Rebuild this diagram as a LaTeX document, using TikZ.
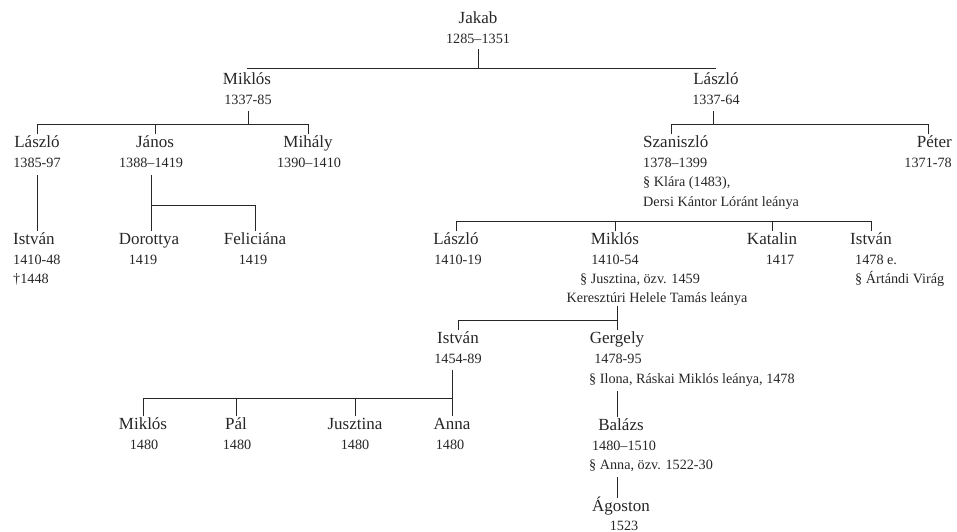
\documentclass[tikz,border=0pt]{standalone}
\usepackage{fontspec}
\setmainfont{Liberation Serif}
\begin{document}
\begin{tikzpicture}[x=1pt,y=-1pt,
  nm/.style={font=\fontsize{17}{20}\selectfont, inner sep=0pt, text height=13pt, text depth=4pt, anchor=mid, text=black!85},
  dt/.style={font=\fontsize{14.2}{17}\selectfont, inner sep=0pt, text height=10.5pt, text depth=3.5pt, anchor=mid, text=black!85},
  link/.style={draw=black!85, line width=0.9pt}]
\useasboundingbox (0,0) rectangle (957,531);

% horizontal bar levels
\coordinate (b1) at (0,68);
\coordinate (b2) at (0,124);
\coordinate (b3l) at (0,205);
\coordinate (b3) at (0,221);
\coordinate (b4) at (0,320);
\coordinate (b5) at (0,398);

% generation 0
\node[nm] (jakab) at (478,21) {Jakab};
\node[dt] (jakab-d) at (478,41) {1285–1351};

% generation 1
\node[nm] (mik1) at (247,82) {Miklós};
\node[dt] (mik1-d) at (248,102) {1337-85};
\node[nm] (las1) at (716,82) {László};
\node[dt] (las1-d) at (716,102) {1337-64};

% generation 2
\node[nm] (las2) at (37,145) {László};
\node[dt] (las2-d) at (37,165) {1385-97};
\node[nm] (jan) at (155,145) {János};
\node[dt] (jan-d) at (151,165) {1388–1419};
\node[nm] (mih) at (308,145) {Mihály};
\node[dt] (mih-d) at (309,165) {1390–1410};
\node[nm,anchor=mid west] (szan) at (643,145) {Szaniszló};
\node[dt,anchor=mid west] (szan-d) at (643,165) {1378–1399};
\node[dt,anchor=mid west] (szan-s) at (643,184) {§ Klára (1483),};
\node[dt,anchor=mid west] (szan-t) at (643,204) {Dersi Kántor Lóránt leánya};
\node[nm,anchor=mid east] (pet) at (952,145) {Péter};
\node[dt,anchor=mid east] (pet-d) at (952,165) {1371-78};

% generation 3
\node[nm,anchor=mid west] (ist1) at (13,242) {István};
\node[dt,anchor=mid west] (ist1-d) at (13,262) {1410-48};
\node[dt,anchor=mid west] (ist1-t) at (13,281) {†1448};
\node[nm] (dor) at (149,242) {Dorottya};
\node[dt] (dor-d) at (143,262) {1419};
\node[nm] (fel) at (255,242) {Feliciána};
\node[dt] (fel-d) at (253,262) {1419};
\node[nm] (las3) at (456,242) {László};
\node[dt] (las3-d) at (458,262) {1410-19};
\node[nm] (mik3) at (615,242) {Miklós};
\node[dt] (mik3-d) at (615,262) {1410-54};
\node[dt] (mik3-s) at (640,281) {§ Jusztina, özv. 1459};
\node[dt] (mik3-t) at (657,300) {Keresztúri Helele Tamás leánya};
\node[nm] (kat) at (772,242) {Katalin};
\node[dt] (kat-d) at (780,262) {1417};
\node[nm] (ist3) at (871,242) {István};
\node[dt,anchor=mid west] (ist3-d) at (855,262) {1478 e.};
\node[dt,anchor=mid west] (ist3-s) at (855,281) {§ Ártándi Virág};

% generation 4
\node[nm] (ist4) at (458,341) {István};
\node[dt] (ist4-d) at (458,361) {1454-89};
\node[nm] (ger) at (617,341) {Gergely};
\node[dt] (ger-d) at (618,361) {1478-95};
\node[dt,anchor=mid west] (ger-s) at (589,381) {§ Ilona, Ráskai Miklós leánya, 1478};

% generation 5
\node[nm] (mik5) at (143,427) {Miklós};
\node[dt] (mik5-d) at (144,447) {1480};
\node[nm] (pal) at (236,427) {Pál};
\node[dt] (pal-d) at (237,447) {1480};
\node[nm] (jus) at (355,427) {Jusztina};
\node[dt] (jus-d) at (355,447) {1480};
\node[nm] (anna) at (452,427) {Anna};
\node[dt] (anna-d) at (450,447) {1480};
\node[nm] (bal) at (621,428) {Balázs};
\node[dt] (bal-d) at (624,448) {1480–1510};
\node[dt,anchor=mid west] (bal-s) at (589,467) {§ Anna, özv. 1522-30};

% generation 6
\node[nm] (ago) at (621,509) {Ágoston};
\node[dt] (ago-d) at (624,528) {1523};

% Jakab's sons
\draw[link] ([yshift=-2pt]jakab-d.south) -- (jakab-d.south |- b1);
\draw[link] (mik1.north |- b1) -- (las1.north |- b1);

% Miklós's sons
\draw[link] ([yshift=-3pt]mik1-d.south) -- (mik1-d.south |- b2);
\draw[link] (las2.north) -- (las2.north |- b2) -- (mih.north |- b2) -- (mih.north);
\draw[link] (jan.north) -- (jan.north |- b2);

% László's sons
\draw[link] ([yshift=-3pt,xshift=-3pt]las1-d.south) -- ([xshift=-3pt]las1-d.south |- b2);
\draw[link] ([xshift=28pt]szan.north west) -- ([xshift=28pt]szan.north west |- b2)
  -- ([xshift=-24pt]pet.north east |- b2) -- ([xshift=-24pt]pet.north east);

% László (1385-97) and János
\draw[link] ([yshift=-4pt]las2-d.south) -- (las2-d.south |- ist1.north);
\draw[link] ([yshift=-4pt]jan-d.south) -- (jan-d.south |- dor.north);
\draw[link] (jan-d.south |- b3l) -- (fel.north |- b3l) -- (fel.north);

% Szaniszló's children
\draw[link] (las3.north) -- (las3.north |- b3) -- (ist3.north |- b3) -- (ist3.north);
\draw[link] (mik3.north) -- (mik3.north |- b3);
\draw[link] (kat.north) -- (kat.north |- b3);

% Miklós (1410-54)
\draw[link] (ist4.north) -- (ist4.north |- b4) -- (ger.north |- b4);
\draw[link] (ger.north |- mik3-t.south) -- (ger.north);

% István (1454-89)
\draw[link] ([yshift=-3pt]anna.north |- ist4-d.south) -- (anna.north);
\draw[link] (mik5.north) -- (mik5.north |- b5) -- (anna.north |- b5);
\draw[link] (pal.north) -- (pal.north |- b5);
\draw[link] (jus.north) -- (jus.north |- b5);

% Gergely, Balázs, Ágoston
\draw[link] ([yshift=-4pt]ger.south |- ger-s.south) -- (ger.south |- bal.north);
\draw[link] ([yshift=-4pt]ger.south |- bal-s.south) -- (ger.south |- ago.north);
\end{tikzpicture}
\end{document}
